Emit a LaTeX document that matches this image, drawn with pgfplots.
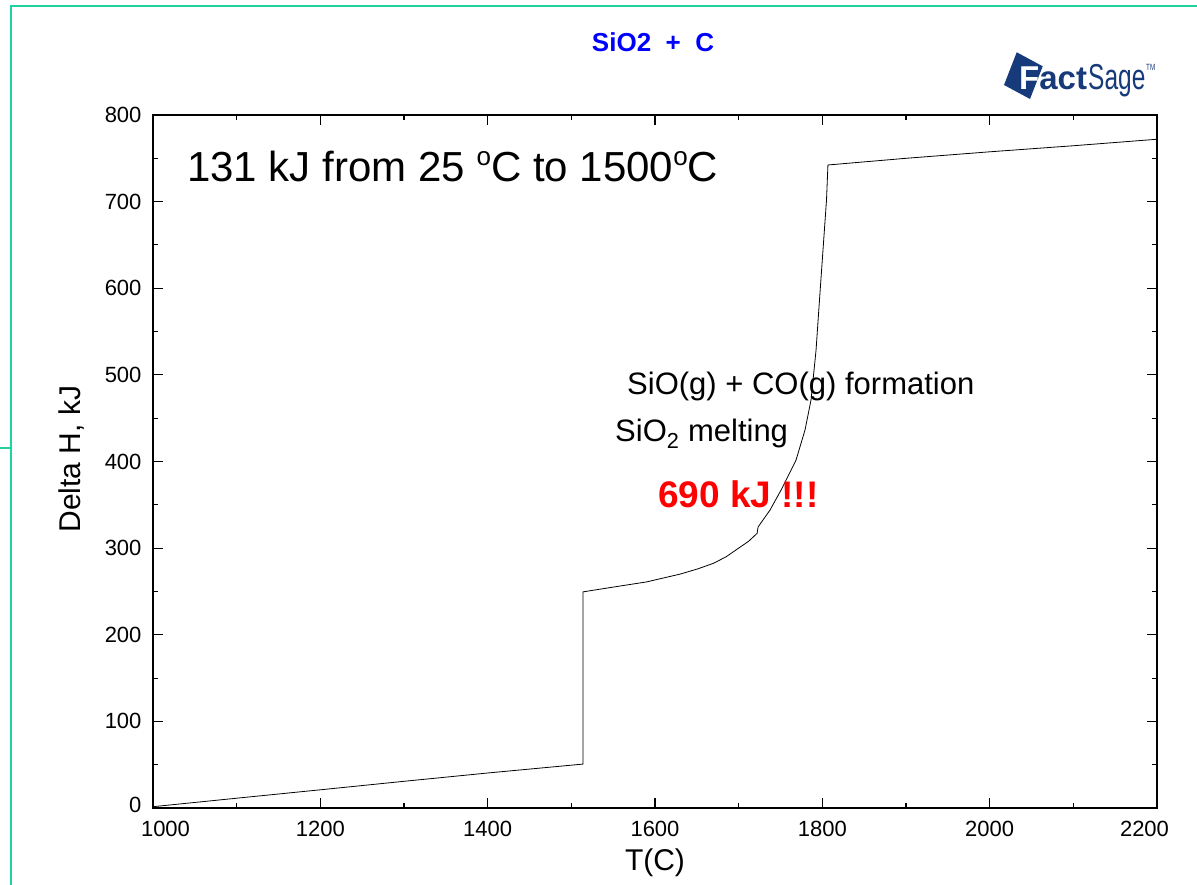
\documentclass[border=0pt]{standalone}
\usepackage{fontspec}
\setmainfont{Liberation Sans}
\usepackage{graphicx}
\usepackage{pgfplots}
\pgfplotsset{compat=1.18}
\definecolor{framegreen}{RGB}{32,210,160}
\definecolor{fsblue}{RGB}{22,58,122}
\newcommand{\fs}[1]{\fontsize{#1}{#1}\selectfont}
\newcommand{\degsup}{\raisebox{16.5pt}{\fs{26}o}}

\begin{document}
\begin{tikzpicture}[x=1pt,y=1pt]
\path[use as bounding box] (0,0) rectangle (1197,885);
% screenshot frame
\draw[framegreen, line width=2.5pt] (11,0) -- (11,879) -- (1197,879);
\draw[framegreen, line width=2.5pt] (0,437) -- (11,437);

\begin{axis}[
  at={(153pt,77pt)}, anchor=south west,
  scale only axis, width=1004pt, height=693pt,
  xmin=1000, xmax=2200, ymin=0, ymax=800,
  xtick={1000,1200,...,2200}, ytick={0,100,...,800},
  xticklabels={\hspace*{25pt}1000,1200,1400,1600,1800,2000,2200\hspace*{25pt}},
  yticklabels={\raisebox{6pt}{0},100,200,300,400,500,600,700,800},
  minor x tick num=1, minor y tick num=1,
  tick align=inside, xtick pos=both, ytick pos=both,
  major tick length=10pt, minor tick length=5pt,
  axis line style={line width=1.3pt},
  major tick style={black, line width=1.1pt},
  minor tick style={black, line width=1.1pt},
  tick label style={font=\fs{22}},
  /pgf/number format/assume math mode=true,
  xticklabel style={yshift=-10pt},
  yticklabel style={xshift=-8pt},
  xlabel={T(C)}, ylabel={Delta H, kJ},
  label style={font=\fs{30}},
  xlabel style={at={(axis description cs:0.5,-0.0909)}, anchor=base},
  ylabel style={at={(axis description cs:-0.0727,0.5036)}, anchor=base},
]
\addplot[black, line width=0.8pt] coordinates {
  (1000,1.5) (1100,11.3) (1200,21) (1300,30.8) (1400,40.4) (1514,50.7)
  (1514,249.5) (1550,255) (1590,261) (1630,270) (1651,276) (1670,282.5)
  (1685,290) (1700,300) (1712,308) (1722,317)
  (1723.2,324.4) (1737.5,344) (1750.7,367.1) (1768.6,401.7) (1779.3,436.4)
  (1786.5,471) (1792.5,528.7) (1796.6,586.4) (1800.8,644.2) (1805,701.9)
  (1806.7,742.3)
  (1900,750) (2000,757.5) (2100,764.5) (2200,772)
};
\end{axis}

% annotations
\node[anchor=base west, inner sep=0pt, font=\fs{42}] at (187,703)
  {131 kJ from 25 \degsup C to 1500\degsup C};
\node[anchor=base west, inner sep=0pt, font=\fs{31}] at (627,490)
  {SiO(g) + CO(g) formation};
\node[anchor=base west, inner sep=0pt, font=\fs{31}] at (615,443)
  {SiO\textsubscript{2} melting};
\node[anchor=base west, inner sep=0pt, font=\fs{37}\bfseries, text=red] at (658,377)
  {690 kJ !!!};
\node[anchor=base, inner sep=0pt, font=\fs{26}\bfseries, text=blue] at (653,833)
  {SiO2~~+~~C};

% FactSage logo
\fill[fsblue] (1016.7,832.7) -- (1042.7,818.7) -- (1030,786) -- (1004,800) -- cycle;
\node[anchor=base west, inner sep=0pt, font=\fs{33}\bfseries] at (1019,795)
  {\textcolor{white}{F}\textcolor{fsblue}{act}};
\node[anchor=base west, inner sep=0pt, text=fsblue] at (1088,795)
  {\scalebox{0.68}[1]{\fs{36}Sage}};
\node[anchor=north west, inner sep=0pt, text=fsblue, font=\fs{9}] at (1146,821)
  {\scalebox{0.7}[1]{TM}};
\end{tikzpicture}
\end{document}
